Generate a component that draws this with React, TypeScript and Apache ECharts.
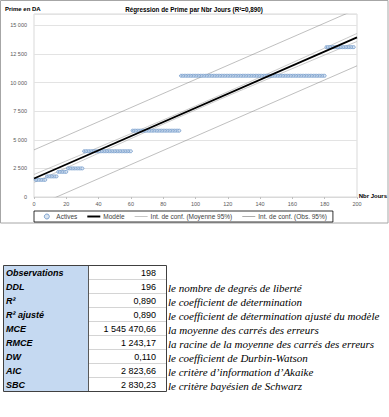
import React, { useEffect, useRef } from 'react';
import * as echarts from 'echarts';

// Observed plateaus of "Prime en DA" by "Nbr Jours"
const runStartDays = [1, 8, 15, 21, 31, 61, 91, 181];
const runEndDays = [7, 14, 20, 30, 60, 90, 180, 198];
const runValues = [1500, 1800, 2200, 2500, 4000, 5800, 10600, 13100];

// Regression model and intervals
const modelX = [0, 200];
const modelY = [1620, 13950];
const meanCiX = [0, 50, 100, 150, 200];
const meanCiUpper = [1970, 4940, 7960, 11110, 14300];
const meanCiLower = [1270, 4465, 7610, 10630, 13600];
const obsCiX = [0, 200];
const obsCiUpper = [4120, 16440];
const obsCiLower = [-860, 11470];

const xTickMax = 200;
const xTickStep = 20;
const yTickMax = 16000;
const yTickStep = 2500;

const chartTitle = 'Régression de Prime par Nbr Jours (R²=0,890)';
const yAxisTitle = 'Prime en DA';
const xAxisTitle = 'Nbr Jours';
const legendNames = ['Actives', 'Modèle', 'Int. de conf. (Moyenne 95%)', 'Int. de conf. (Obs. 95%)'];

const tableLabels = ['Observations', 'DDL', 'R²', 'R² ajusté', 'MCE', 'RMCE', 'DW', 'AIC', 'SBC'];
const tableValues = ['198', '196', '0,890', '0,890', '1 545 470,66', '1 243,17', '0,110', '2 823,66', '2 830,23'];
const tableDescriptions = [
  '',
  'le nombre de degrés de liberté',
  'le coefficient de détermination',
  'le coefficient de détermination ajusté du modèle',
  'la moyenne des carrés des erreurs',
  'la racine de la moyenne des carrés des erreurs',
  'le coefficient de Durbin-Watson',
  'le critère d’information d’Akaike',
  'le critère bayésien de Schwarz',
];

const FONT = "'Liberation Sans', Arial, sans-serif";

function fmt(v: number): string {
  return String(v).replace(/\B(?=(\d{3})+(?!\d))/g, ' ');
}

export default function App() {
  const ref = useRef<HTMLDivElement>(null);
  useEffect(() => {
    const chart = echarts.init(ref.current!, null, { renderer: 'svg' });

    const scatterData: number[][] = [];
    runValues.forEach((v, i) => {
      for (let d = runStartDays[i]; d <= runEndDays[i]; d++) scatterData.push([d, v]);
    });
    const pair = (xs: number[], ys: number[]) => xs.map((x, i) => [x, ys[i]]);

    // table graphics
    const tX0 = 3, tX1 = 88, tX2 = 166, tY0 = 265, rowH = 14;
    const nRows = tableLabels.length;
    const tableEls: any[] = [];
    tableEls.push({ type: 'rect', shape: { x: tX0, y: tY0, width: tX1 - tX0, height: rowH * nRows }, style: { fill: '#c5d9f1' } });
    for (let i = 1; i < nRows; i++) {
      tableEls.push({ type: 'line', shape: { x1: tX1, y1: tY0 + i * rowH + 0.5, x2: tX2, y2: tY0 + i * rowH + 0.5 }, style: { stroke: '#d4d4d4', lineWidth: 1 } });
    }
    tableEls.push({ type: 'line', shape: { x1: tX1 + 0.5, y1: tY0, x2: tX1 + 0.5, y2: tY0 + rowH * nRows }, style: { stroke: '#595959', lineWidth: 1 } });
    tableEls.push({ type: 'rect', shape: { x: tX0 + 0.5, y: tY0 + 0.5, width: tX2 - tX0, height: rowH * nRows }, style: { fill: 'none', stroke: '#404040', lineWidth: 1 } });
    tableLabels.forEach((lab, i) => {
      const cy = tY0 + rowH * i + rowH / 2 + 0.5;
      tableEls.push({ type: 'text', x: tX0 + 3, y: cy, style: { text: lab, fontFamily: FONT, fontSize: 9, fontWeight: 'bold', fontStyle: 'italic', fill: '#000', align: 'left', verticalAlign: 'middle' } });
      tableEls.push({ type: 'text', x: 156, y: cy, style: { text: tableValues[i], fontFamily: FONT, fontSize: 9, fill: '#000', align: 'right', verticalAlign: 'middle' } });
      if (tableDescriptions[i]) {
        tableEls.push({ type: 'text', x: 168, y: cy + 1, style: { text: tableDescriptions[i], fontFamily: "'Liberation Serif', 'DejaVu Serif', serif", fontSize: 11, fontStyle: 'italic', fill: '#000', align: 'left', verticalAlign: 'middle' } });
      }
    });

    const option: any = {
      animation: false,
      backgroundColor: '#fff',
      grid: { left: 34, top: 14, width: 323, height: 183, show: true, borderColor: '#d9d9d9', borderWidth: 1, containLabel: false },
      xAxis: {
        type: 'value', min: 0, max: xTickMax, interval: xTickStep,
        axisLine: { show: true, lineStyle: { color: '#d9d9d9' } },
        axisTick: { show: true, length: 2, lineStyle: { color: '#bfbfbf' } },
        axisLabel: { fontSize: 5.5, color: '#595959', fontFamily: FONT, margin: 4 },
        splitLine: { show: false },
      },
      yAxis: {
        type: 'value', min: 0, max: yTickMax, interval: yTickStep,
        axisLine: { show: false },
        axisTick: { show: false },
        axisLabel: { fontSize: 5.5, color: '#595959', fontFamily: FONT, margin: 7, formatter: (v: number) => (v > 15000 ? '' : fmt(v)) },
        splitLine: { show: true, lineStyle: { color: '#e3e3e3', width: 1 } },
      },
      legend: {
        left: 34, top: 211, padding: [2, 6, 2, 10], borderColor: '#000', borderWidth: 0.8,
        itemWidth: 13, itemHeight: 5, itemGap: 10,
        textStyle: { fontSize: 6.5, color: '#404040', fontFamily: FONT, padding: [0, 0, 0, -2] },
        data: [
          { name: legendNames[0], icon: 'circle', itemStyle: { color: '#dbe5f1', borderColor: '#4f81bd', borderWidth: 0.7 } },
          { name: legendNames[1], icon: 'path://M0,0 L20,0 L20,3 L0,3 Z', itemStyle: { color: '#000', borderWidth: 0 } },
          { name: legendNames[2], icon: 'path://M0,0 L20,0 L20,1 L0,1 Z', itemStyle: { color: '#a6a6a6', borderWidth: 0 } },
          { name: legendNames[3], icon: 'path://M0,0 L20,0 L20,1 L0,1 Z', itemStyle: { color: '#7f7f7f', borderWidth: 0 } },
        ],
      },
      series: [
        { name: legendNames[3], type: 'line', data: pair(obsCiX, obsCiUpper), symbol: 'none', lineStyle: { color: '#7f7f7f', width: 0.5 }, itemStyle: { color: '#7f7f7f' }, z: 2 },
        { name: legendNames[3], type: 'line', data: pair(obsCiX, obsCiLower), symbol: 'none', lineStyle: { color: '#7f7f7f', width: 0.5 }, itemStyle: { color: '#7f7f7f' }, z: 2 },
        { name: legendNames[2], type: 'line', data: pair(meanCiX, meanCiUpper), symbol: 'none', smooth: true, lineStyle: { color: '#a6a6a6', width: 0.6 }, itemStyle: { color: '#a6a6a6' }, z: 2 },
        { name: legendNames[2], type: 'line', data: pair(meanCiX, meanCiLower), symbol: 'none', smooth: true, lineStyle: { color: '#a6a6a6', width: 0.6 }, itemStyle: { color: '#a6a6a6' }, z: 2 },
        { name: legendNames[0], type: 'scatter', data: scatterData, symbol: 'circle', symbolSize: 3, itemStyle: { color: '#dbe5f1', borderColor: '#4f81bd', borderWidth: 0.6, opacity: 1 }, z: 3 },
        { name: legendNames[1], type: 'line', data: pair(modelX, modelY), symbol: 'none', lineStyle: { color: '#000', width: 1.8 }, itemStyle: { color: '#000' }, z: 4 },
      ],
      graphic: [
        { type: 'rect', shape: { x: 0.5, y: 0.5, width: 387.5, height: 222.5 }, style: { fill: 'none', stroke: '#a6a6a6', lineWidth: 1 }, silent: true },
        { type: 'text', x: 5, y: 9, style: { text: yAxisTitle, fontFamily: FONT, fontSize: 6, fontWeight: 'bold', fill: '#000', align: 'left', verticalAlign: 'middle' } },
        { type: 'text', x: 194, y: 9, style: { text: chartTitle, fontFamily: FONT, fontSize: 6.3, fontWeight: 'bold', fill: '#000', align: 'center', verticalAlign: 'middle' } },
        { type: 'text', x: 387, y: 196, style: { text: xAxisTitle, fontFamily: FONT, fontSize: 6, fontWeight: 'bold', fill: '#000', align: 'right', verticalAlign: 'middle' } },
        ...tableEls,
      ],
    };
    chart.setOption(option);
    return () => chart.dispose();
  }, []);
  return <div ref={ref} style={{ position: 'absolute', left: 0, top: 0, width: 389, height: 417 }} />;
}
